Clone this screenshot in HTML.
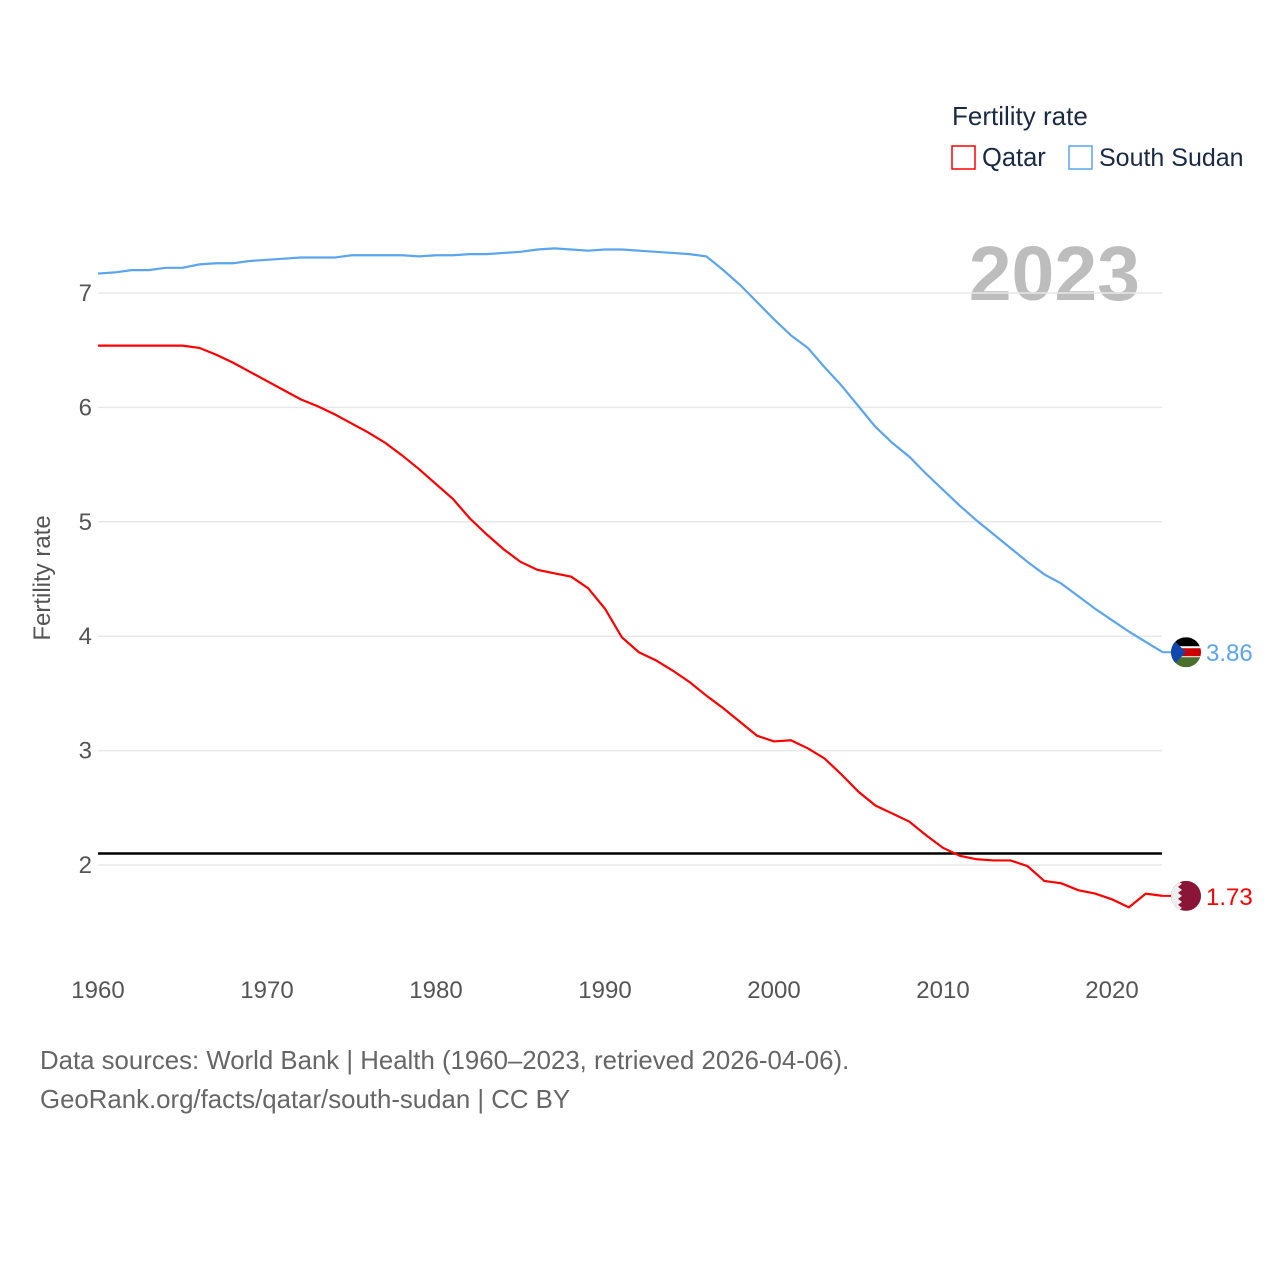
<!DOCTYPE html>
<html><head><meta charset="utf-8"><style>
body{margin:0;background:#fff;width:1280px;height:1280px;overflow:hidden;font-family:"Liberation Sans",sans-serif}
</style></head><body>
<svg id="chart" width="1280" height="1280" xmlns="http://www.w3.org/2000/svg" font-family="Liberation Sans, sans-serif">
<defs>
<clipPath id="c1"><circle id="c1c" cx="1186" cy="0" r="15"/></clipPath>
<clipPath id="c2"><circle id="c2c" cx="1186" cy="0" r="15"/></clipPath>
</defs>
<text x="952" y="125" font-size="26" fill="#1a2a44">Fertility rate</text>
<g><rect x="952" y="146" width="23" height="23" fill="none" stroke="#f00" stroke-width="1.5"/><text x="982" y="166" font-size="25.5" fill="#1a2a44">Qatar</text></g>
<g><rect x="1069" y="146" width="23" height="23" fill="none" stroke="#5aa5ee" stroke-width="1.5"/><text x="1099" y="166" font-size="25" fill="#1a2a44">South Sudan</text></g>
<text x="1140" y="300" font-size="77" font-weight="bold" fill="#bdbdbd" text-anchor="end">2023</text>
<text transform="translate(50,578) rotate(-90)" font-size="24" fill="#555" text-anchor="middle">Fertility rate</text>
<g id="grid"></g><g id="series"></g>
<text x="40" y="1069" font-size="25.8" fill="#666">Data sources: World Bank | Health (1960–2023, retrieved 2026-04-06).</text>
<text x="40" y="1108" font-size="25.8" fill="#666">GeoRank.org/facts/qatar/south-sudan | CC BY</text>
</svg>
<script>
const years=[];for(let y=1960;y<=2023;y++)years.push(y);
const southSudan=[7.17,7.18,7.20,7.20,7.22,7.22,7.25,7.26,7.26,7.28,7.29,7.30,7.31,7.31,7.31,7.33,7.33,7.33,7.33,7.32,7.33,7.33,7.34,7.34,7.35,7.36,7.38,7.39,7.38,7.37,7.38,7.38,7.37,7.36,7.35,7.34,7.32,7.20,7.07,6.92,6.77,6.63,6.52,6.35,6.19,6.01,5.83,5.69,5.57,5.42,5.28,5.14,5.01,4.89,4.77,4.65,4.54,4.46,4.35,4.24,4.14,4.04,3.95,3.86];
const qatar=[6.54,6.54,6.54,6.54,6.54,6.54,6.52,6.46,6.39,6.31,6.23,6.15,6.07,6.01,5.94,5.86,5.78,5.69,5.58,5.46,5.33,5.20,5.03,4.89,4.76,4.65,4.58,4.55,4.52,4.42,4.24,3.99,3.86,3.79,3.70,3.60,3.48,3.37,3.25,3.13,3.08,3.09,3.02,2.93,2.79,2.64,2.52,2.45,2.38,2.26,2.15,2.08,2.05,2.04,2.04,1.99,1.86,1.84,1.78,1.75,1.70,1.63,1.75,1.73];
const yTicks=[2,3,4,5,6,7];
const xTicks=[1960,1970,1980,1990,2000,2010,2020];
const replacement=2.1;
const X=y=>98+(y-1960)*(1112-98)/60;
const Y=v=>293+(7-v)*114.4;
const NS='http://www.w3.org/2000/svg';
function mk(t,a,p){const e=document.createElementNS(NS,t);for(const k in a)e.setAttribute(k,a[k]);p.appendChild(e);return e;}
const g=document.getElementById('grid'),s=document.getElementById('series');
yTicks.forEach(v=>{
 const l=mk('line',{x1:98,x2:1162,y1:Y(v),y2:Y(v),stroke:'#e8e8e8','stroke-width':1.5},g);
 
 
 const t=mk('text',{x:92,y:Y(v)+8,'font-size':24,fill:'#555','text-anchor':'end'},g);t.textContent=v;
 
 
});
xTicks.forEach(v=>{
 const t=mk('text',{x:X(v),y:998,'font-size':24,fill:'#555','text-anchor':'middle'},g);t.textContent=v;
 
 
});
const rl=mk('line',{x1:98,x2:1162,y1:Y(replacement),y2:Y(replacement),stroke:'#000','stroke-width':2.5},g);


function line(vals,col,name){
 const p=mk('polyline',{points:vals.map((v,i)=>X(years[i])+','+Y(v)).join(' '),fill:'none',stroke:col,'stroke-width':2.2},s);
 
 
}
line(southSudan,'#5aa5ee','south-sudan-line');
line(qatar,'#f00','qatar-line');
const ssv=southSudan[southSudan.length-1],qv=qatar[qatar.length-1];
const ex=X(2023);
mk('line',{x1:ex,x2:1175,y1:Y(ssv),y2:Y(ssv),stroke:'#5aa5ee','stroke-width':2},s);
mk('line',{x1:ex,x2:1175,y1:Y(qv),y2:Y(qv),stroke:'#f00','stroke-width':2},s);
const cy1=Y(ssv),cy2=Y(qv);
document.getElementById('c1c').setAttribute('cy',cy1);
document.getElementById('c2c').setAttribute('cy',cy2);
const fs=mk('g',{'clip-path':'url(#c1)'},s);


mk('rect',{x:1171,y:cy1-15,width:30,height:10,fill:'#000'},fs);
mk('rect',{x:1171,y:cy1-5,width:30,height:10,fill:'#c00'},fs);
mk('rect',{x:1171,y:cy1-6,width:30,height:2,fill:'#fff'},fs);
mk('rect',{x:1171,y:cy1+4,width:30,height:2,fill:'#fff'},fs);
mk('rect',{x:1171,y:cy1+5,width:30,height:10,fill:'#4a6e2e'},fs);
mk('polygon',{points:`1171,${cy1-15} 1186,${cy1} 1171,${cy1+15}`,fill:'#0f47af'},fs);
const fq=mk('g',{'clip-path':'url(#c2)'},s);


mk('rect',{x:1171,y:cy2-15,width:30,height:30,fill:'#8a1538'},fq);
mk('path',{d:`M1171,${cy2-15} L1178,${cy2-15} L1182,${cy2-12} L1178,${cy2-9} L1182,${cy2-6} L1178,${cy2-3} L1182,${cy2} L1178,${cy2+3} L1182,${cy2+6} L1178,${cy2+9} L1182,${cy2+12} L1178,${cy2+15} L1171,${cy2+15}Z`,fill:'#eee'},fq);
const t1=mk('text',{x:1206,y:cy1+9,'font-size':24,fill:'#5aa5ee'},s);t1.textContent=ssv.toFixed(2);


const t2=mk('text',{x:1206,y:cy2+9,'font-size':24,fill:'#f00'},s);t2.textContent=qv.toFixed(2);


</script>
</body></html>
